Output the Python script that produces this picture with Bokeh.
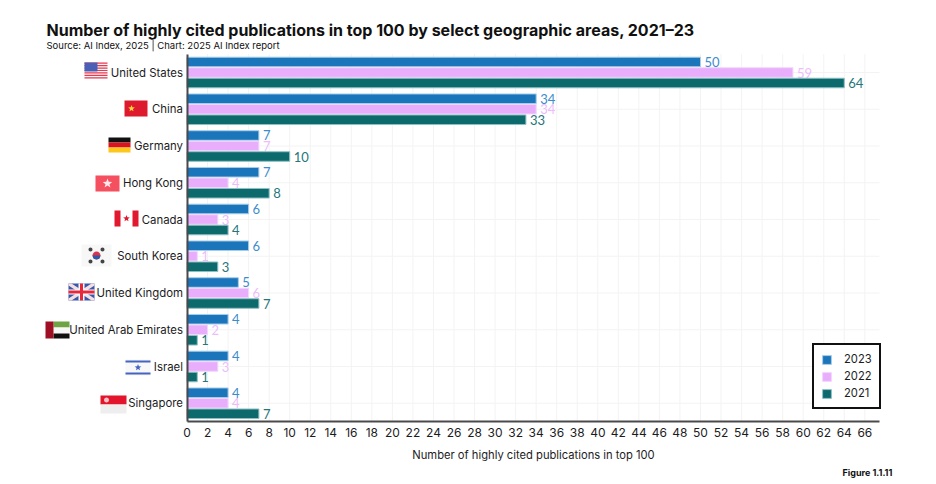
import math
from bokeh.plotting import figure
from bokeh.embed import file_html
from bokeh.resources import INLINE
from bokeh.models import (ColumnDataSource, Label, Legend, LegendItem, BoxAnnotation, LinearAxis,
                          PolyAnnotation, FixedTicker, Range1d)
from bokeh.core.properties import value

categories = ["United States", "China", "Germany", "Hong Kong", "Canada", "South Korea",
              "United Kingdom", "United Arab Emirates", "Israel", "Singapore"]
v2023 = [50, 34, 7, 7, 6, 6, 5, 4, 4, 4]
v2022 = [59, 34, 7, 4, 3, 1, 6, 2, 3, 4]
v2021 = [64, 33, 10, 8, 4, 3, 7, 1, 1, 7]
x_ticks = list(range(0, 67, 2))
title_text = "Number of highly cited publications in top 100 by select geographic areas, 2021\u201323"
subtitle_text = "Source: AI Index, 2025 | Chart: 2025 AI Index report"
x_label = "Number of highly cited publications in top 100"
figure_text = "Figure 1.1.11"

FONT = "Inter"
INK = "#1c1c1e"
W, H = 930, 478
PX_X, X0 = 10.27, 186.5      # pixels per unit and page position of zero
PX_Y, Y0 = 36.75, 72.0       # pixels per category and page position of first one
X_MAX = 67.43
series = [("2023", v2023, "#1b75bb", "#a5cde9", "#3d8ccb", -0.286),
          ("2022", v2022, "#e8aefb", "#f3d6fd", "#eebcfd", 0.0),
          ("2021", v2021, "#0c696c", "#8fc0c4", "#25767b", 0.286)]

ranks = list(range(len(categories)))
p = figure(width=W, height=H, output_backend="svg", toolbar_location=None,
           x_range=Range1d(-X0 / PX_X, (W - X0) / PX_X),
           y_range=Range1d((H - Y0) / PX_Y, -Y0 / PX_Y),
           min_border=0, outline_line_color=None, x_axis_type=None, y_axis_type=None)
p.background_fill_color = "white"
p.border_fill_color = "white"
p.xgrid.grid_line_color = None
p.ygrid.grid_line_color = None

x_axis = LinearAxis(fixed_location=9.5, bounds=(0, X_MAX), ticker=FixedTicker(ticks=x_ticks))
y_axis = LinearAxis(fixed_location=0, bounds=(-0.5, 9.5), ticker=FixedTicker(ticks=ranks),
                    major_label_overrides=dict(zip(ranks, categories)))
p.add_layout(x_axis, "below")
p.add_layout(y_axis, "left")

for a in (x_axis, y_axis):
    a.major_tick_line_color = None
    a.minor_tick_line_color = None
    a.axis_line_color = "#4a4a4c"
    a.axis_line_width = 2
    a.major_label_text_font = FONT
    a.major_label_text_color = INK
x_axis.major_label_text_font_size = "12px"
y_axis.major_label_text_font_size = "11.4px"
x_axis.major_label_standoff = 0
y_axis.major_label_standoff = -2
x_axis.axis_label = x_label
x_axis.axis_label_text_font = FONT
x_axis.axis_label_text_font_size = "11.2px"
x_axis.axis_label_text_font_style = "normal"
x_axis.axis_label_text_color = INK
x_axis.axis_label_standoff = 8

# grid limited to the plot area
p.segment(x0=x_ticks, x1=x_ticks, y0=[-0.5] * len(x_ticks), y1=[9.5] * len(x_ticks),
          line_color="#f3f3f4", line_width=1, level="underlay")
p.segment(x0=[0] * len(ranks), x1=[X_MAX] * len(ranks), y0=ranks, y1=ranks,
          line_color="#f3f3f4", line_width=1, level="underlay")

legend_items = []
for name, vals, fill, edge, text_col, off in series:
    src = ColumnDataSource(dict(y=[r + off for r in ranks], val=vals, lab=[str(v) for v in vals]))
    r = p.hbar(y="y", right="val", left=0, height=0.26, source=src,
               fill_color=fill, line_color=edge, line_width=1)
    p.text(x="val", y="y", text="lab", source=src, x_offset=4,
           text_align="left", text_baseline="middle", text_color=text_col,
           text_font=value("Lato"), text_font_size="13px")
    legend_items.append(LegendItem(label=name, renderers=[r]))

legend = Legend(items=legend_items, location=(812, H - 409), border_line_color="#111111", border_line_width=2,
                border_line_alpha=1, background_fill_alpha=1, glyph_width=11, glyph_height=11,
                label_text_font=FONT, label_text_font_size="11.2px", label_text_color=INK,
                spacing=3, padding=7, margin=0, label_standoff=12, label_height=10)
p.add_layout(legend, "center")


def fy(y):
    return H - y


def add_text(text, x, y, size, style="normal", align="left"):
    p.add_layout(Label(x=x, y=fy(y), x_units="screen", y_units="screen", text=text,
                       text_font=FONT, text_font_size=size, text_font_style=style, text_color="#111111",
                       text_align=align, text_baseline="middle"))


add_text(title_text, 46, 29, "16px", "bold")
add_text(subtitle_text, 46, 45, "9.5px")
add_text(figure_text, 842, 472, "9px", "bold")


# decorative flags, positioned in page pixels
def box(l, t, r, b, c):
    p.add_layout(BoxAnnotation(left=l, right=r, top=fy(t), bottom=fy(b), left_units="screen",
                               right_units="screen", top_units="screen", bottom_units="screen",
                               fill_color=c, fill_alpha=1, line_color=None, level="overlay"))


def poly(pts, c):
    p.add_layout(PolyAnnotation(xs=[a for a, _ in pts], ys=[fy(b) for _, b in pts], xs_units="screen",
                                ys_units="screen", fill_color=c, fill_alpha=1, line_color=None, level="overlay"))


def circle(cx, cy, rad, c):
    poly([(cx + rad * math.cos(i * math.pi / 8), cy + rad * math.sin(i * math.pi / 8)) for i in range(16)], c)


def star(cx, cy, rad, c):
    poly([(cx + (rad if i % 2 == 0 else rad * 0.42) * math.sin(i * math.pi / 5),
           cy - (rad if i % 2 == 0 else rad * 0.42) * math.cos(i * math.pi / 5)) for i in range(10)], c)


# United States
box(84, 62, 107, 78, "#f7f7f9")
for i in range(0, 7):
    box(84, 62 + i * 2.46, 107, 62 + i * 2.46 + 1.23, "#e8394f")
box(84, 62, 97, 71, "#4a5fb5")
# China
box(124, 100, 147, 116, "#de1a2e")
star(131, 108, 3.5, "#f9d53a")
# Germany
box(108, 137, 130, 142, "#111111")
box(108, 142, 130, 147, "#d9131f")
box(108, 147, 130, 152, "#fcc81e")
# Hong Kong
box(95, 175, 119, 191, "#f4505f")
star(107, 183, 5, "#ffe6e8")
# Canada
box(114, 210, 138, 226, "#ffffff")
box(114, 210, 120, 226, "#e2182f")
box(132, 210, 138, 226, "#e2182f")
star(126, 218, 3.5, "#e2182f")
# South Korea
box(81, 244, 111, 266, "#f7f7f7")
circle(96, 255, 4, "#d8344a")
poly([(92, 255), (100, 255), (99, 258), (96, 259), (93, 258)], "#2a5aa8")
for cx, cy in [(90, 249), (102, 249), (90, 261), (102, 261)]:
    circle(cx, cy, 2, "#444444")
# United Kingdom
box(68, 283, 94, 300, "#3b57a8")
poly([(68, 283), (71, 283), (94, 298), (94, 300), (91, 300), (68, 285)], "#f4dfe2")
poly([(94, 283), (91, 283), (68, 298), (68, 300), (71, 300), (94, 285)], "#f4dfe2")
box(78, 283, 84, 300, "#ffffff")
box(68, 289, 94, 294, "#ffffff")
box(79.5, 283, 82.5, 300, "#e6283c")
box(68, 290, 94, 293, "#e6283c")
# United Arab Emirates
box(53, 321, 69, 327, "#6fa445")
box(53, 327, 69, 333, "#f7f7f7")
box(53, 333, 69, 338, "#111111")
box(45, 321, 53, 338, "#9f0f24")
# Israel
box(125, 359, 150, 375, "#f8f8fb")
box(125, 360, 150, 362, "#4464bd")
box(125, 372, 150, 374, "#4464bd")
star(137.5, 367, 3.5, "#4464bd")
# Singapore
box(100, 395, 126, 404, "#e2152c")
box(100, 404, 126, 413, "#eeeeee")
circle(106, 399.5, 2.5, "#f7c0c4")

open("out.html", "w").write(file_html(p, INLINE))
